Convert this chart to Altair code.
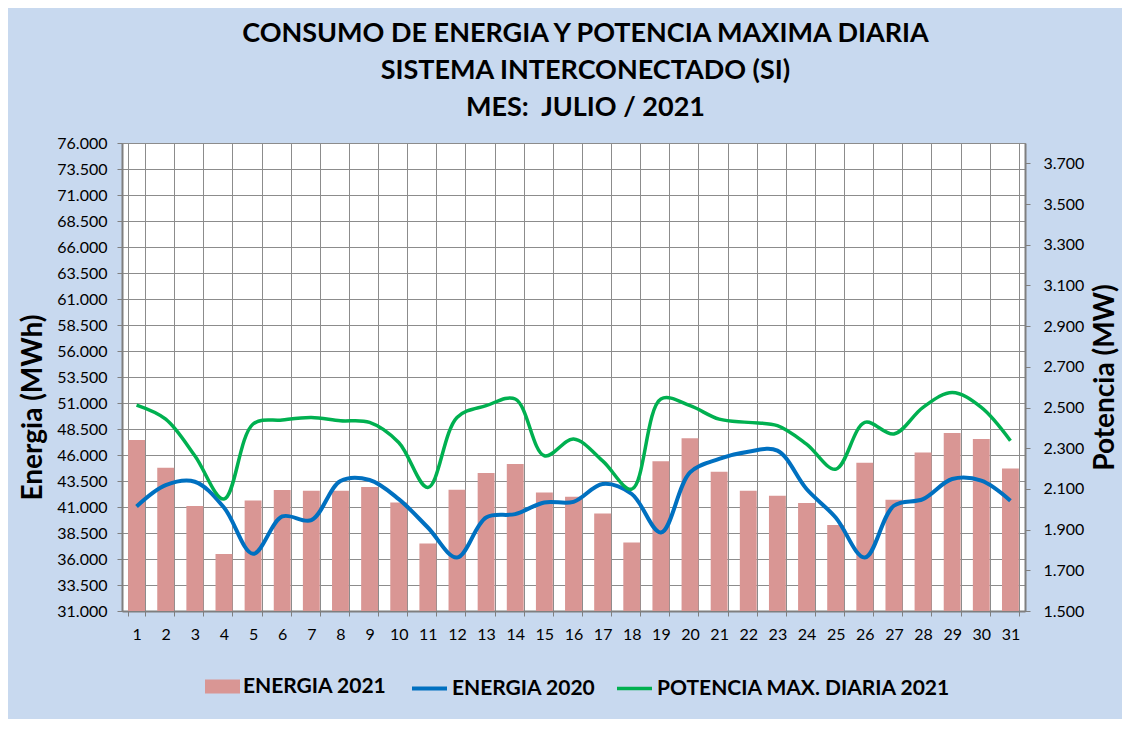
import altair as alt
import pandas as pd

dias = [str(d) for d in range(1, 32)]
energia_2021 = [47450, 44780, 41090, 36490, 41630, 42630, 42560, 42560, 42920, 41440,
                37490, 42660, 44270, 45140, 42400, 41985, 40380, 37580, 45390, 47600,
                44390, 42560, 42080, 41380, 39260, 45260, 41700, 46250, 48120, 47545, 44710]
energia_2020 = [41050, 43100, 43430, 40950, 36500, 40090, 39740, 43500, 43600, 41760,
                39030, 36140, 39990, 40320, 41440, 41500, 43210, 42250, 38550, 44330,
                45620, 46320, 46420, 42730, 39990, 36140, 41120, 41760, 43690, 43530, 41600]
potencia_2021 = [2512, 2443, 2263, 2050, 2419, 2439, 2451, 2435, 2427, 2328,
                 2107, 2451, 2509, 2542, 2263, 2345, 2238, 2099, 2542, 2509,
                 2443, 2427, 2411, 2320, 2197, 2427, 2370, 2501, 2574, 2501, 2337]

s_bar = "ENERGIA 2021"
s_e20 = "ENERGIA 2020"
s_pot = "POTENCIA MAX. DIARIA 2021"

df = pd.DataFrame({"dia": dias, "e21": energia_2021, "e20": energia_2020, "pot": potencia_2021,
                   "s_bar": s_bar, "s_e20": s_e20, "s_pot": s_pot})

FONT = "Lato"
left_ticks = list(range(31000, 76001, 2500))
right_ticks = list(range(1500, 3701, 200))
num_expr = "replace(format(datum.value, ','), ',', '.')"

xenc = alt.X("dia:O", sort=dias, title=None,
             scale=alt.Scale(paddingInner=0.42, paddingOuter=0.21),
             axis=alt.Axis(labelAngle=0, labelFontSize=16, labelFont=FONT, labelColor="#000000",
                           labelPadding=10, tickBand="extent", grid=True, gridColor="#8c8c8c",
                           gridWidth=1, domainColor="#7f7f7f", domainWidth=2, tickColor="#7f7f7f",
                           tickSize=5))

left_scale = alt.Scale(domain=[31000, 76000], nice=False, zero=False)


def left_axis():
    return alt.Axis(values=left_ticks, labelExpr=num_expr, labelFontSize=16, labelFont=FONT,
                    labelColor="#000000", labelPadding=10, tickSize=5, tickColor="#7f7f7f",
                    domainColor="#7f7f7f", domainWidth=2, grid=True, gridColor="#8c8c8c",
                    gridWidth=1, titleFontSize=28, titleFont=FONT, titleFontWeight="bold",
                    titleColor="#000000", titleAngle=270, titleAlign="center",
                    titleBaseline="middle", titleX=-89, titleY=264)


leg_common = dict(orient="none", direction="horizontal", title=None, labelFont=FONT,
                  labelFontSize=21, labelFontWeight="bold", labelColor="#000000",
                  symbolSize=1225, labelOffset=3, legendY=526, labelLimit=500)

bars = alt.Chart(df).mark_bar(color="#d99694").encode(
    x=xenc,
    y=alt.Y("e21:Q", title="Energia (MWh)", scale=left_scale, axis=left_axis()),
    y2=alt.datum(31000),
    color=alt.Color("s_bar:N", scale=alt.Scale(domain=[s_bar], range=["#d99694"]),
                    legend=alt.Legend(symbolType="M-1,-0.4H1V0.4H-1Z", symbolStrokeWidth=0,
                                      legendX=83, **leg_common)))

line20 = alt.Chart(df).mark_line(strokeWidth=4, interpolate="catmull-rom").encode(
    x=xenc,
    y=alt.Y("e20:Q", title="Energia (MWh)", scale=left_scale, axis=left_axis()),
    color=alt.Color("s_e20:N", scale=alt.Scale(domain=[s_e20], range=["#0070c0"]),
                    legend=alt.Legend(symbolType="stroke", symbolStrokeWidth=4,
                                      legendX=288, **leg_common)))

left_layer = alt.layer(bars, line20).resolve_scale(color="independent")

linepot = alt.Chart(df).mark_line(strokeWidth=3.5, interpolate="catmull-rom").encode(
    x=xenc,
    y=alt.Y("pot:Q", title="Potencia (MW)",
            scale=alt.Scale(domain=[1500, 3800], nice=False, zero=False),
            axis=alt.Axis(orient="right", values=right_ticks, labelExpr=num_expr, labelFontSize=16,
                          labelFont=FONT, labelColor="#000000", labelPadding=13, tickSize=5,
                          tickColor="#7f7f7f", domainColor="#7f7f7f", domainWidth=2, grid=False,
                          titleFontSize=28, titleFont=FONT, titleFontWeight="bold",
                          titleColor="#000000", titleAngle=270, titleAlign="center",
                          titleBaseline="middle", titleX=80, titleY=234)),
    color=alt.Color("s_pot:N", scale=alt.Scale(domain=[s_pot], range=["#00b050"]),
                    legend=alt.Legend(symbolType="stroke", symbolStrokeWidth=3.5,
                                      legendX=493, **leg_common)))

chart = alt.layer(left_layer, linepot).resolve_scale(
    y="independent", color="independent"
).properties(
    width=903, height=468,
    title=alt.Title(["CONSUMO DE ENERGIA Y POTENCIA MAXIMA DIARIA",
                     "SISTEMA INTERCONECTADO (SI)",
                     "MES:\u00a0 JULIO / 2021"],
                    font=FONT, fontSize=27, fontWeight="bold", color="#000000",
                    anchor="middle", lineHeight=37, offset=13, dx=12),
    autosize=alt.AutoSizeParams(type="none"),
    padding={"left": 114, "top": 135, "right": 97, "bottom": 108},
).configure(
    background="#c8d9ef",
).configure_view(
    fill="#ffffff", stroke="#8c8c8c", strokeWidth=1
)

chart.save("out.html", embed_options={"renderer": "svg", "actions": False})
